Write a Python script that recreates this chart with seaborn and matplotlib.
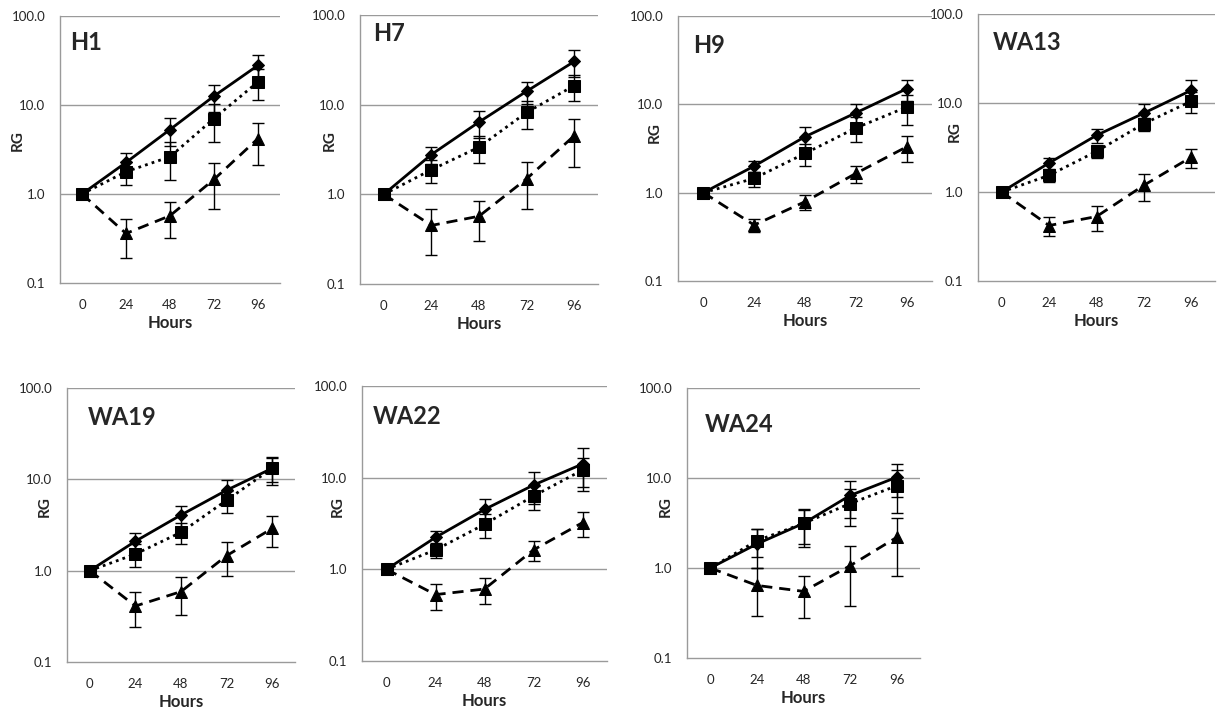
import numpy as np
import pandas as pd
import seaborn as sns
import matplotlib.pyplot as plt
import matplotlib.ticker as mticker

# categories on the x axis
hours = ["0", "24", "48", "72", "96"]
panels = ["H1", "H7", "H9", "WA13", "WA19", "WA22", "WA24"]

# mean RG per panel, three series (diamond/solid, square/dotted, triangle/dashed)
rg_a = {
    "H1":   [1.0, 2.26, 5.3, 12.6, 27.9],
    "H7":   [1.0, 2.78, 6.4, 14.1, 30.3],
    "H9":   [1.0, 2.0, 4.3, 8.0, 15.0],
    "WA13": [1.0, 2.12, 4.33, 7.7, 13.9],
    "WA19": [1.0, 2.1, 4.07, 7.6, 13.2],
    "WA22": [1.0, 2.23, 4.5, 8.3, 14.1],
    "WA24": [1.0, 1.85, 3.13, 6.4, 10.2],
}
err_a = {
    "H1":   [0, 0.65, 1.8, 4.3, 8.8],
    "H7":   [0, 0.6, 2.2, 4.0, 10.0],
    "H9":   [0, 0.27, 1.2, 2.2, 4.0],
    "WA13": [0, 0.3, 0.8, 2.0, 4.1],
    "WA19": [0, 0.47, 1.1, 2.2, 3.8],
    "WA22": [0, 0.39, 1.3, 3.1, 7.0],
    "WA24": [0, 0.86, 1.4, 2.8, 4.1],
}
rg_b = {
    "H1":   [1.0, 1.78, 2.62, 7.05, 18.2],
    "H7":   [1.0, 1.88, 3.36, 8.2, 16.3],
    "H9":   [1.0, 1.45, 2.78, 5.4, 9.3],
    "WA13": [1.0, 1.54, 2.86, 5.86, 10.5],
    "WA19": [1.0, 1.52, 2.63, 5.9, 13.2],
    "WA22": [1.0, 1.63, 3.1, 6.3, 12.1],
    "WA24": [1.0, 2.01, 3.13, 5.2, 8.2],
}
err_b = {
    "H1":   [0, 0.52, 1.2, 3.2, 6.9],
    "H7":   [0, 0.54, 1.1, 2.8, 5.3],
    "H9":   [0, 0.28, 0.78, 1.7, 3.5],
    "WA13": [0, 0.24, 0.43, 1.0, 2.8],
    "WA19": [0, 0.43, 0.67, 1.6, 4.5],
    "WA22": [0, 0.29, 0.9, 1.9, 4.1],
    "WA24": [0, 0.7, 1.3, 2.3, 4.1],
}
rg_c = {
    "H1":   [1.0, 0.36, 0.57, 1.46, 4.2],
    "H7":   [1.0, 0.45, 0.57, 1.49, 4.5],
    "H9":   [1.0, 0.43, 0.79, 1.65, 3.3],
    "WA13": [1.0, 0.42, 0.53, 1.19, 2.47],
    "WA19": [1.0, 0.41, 0.59, 1.46, 2.9],
    "WA22": [1.0, 0.53, 0.61, 1.63, 3.23],
    "WA24": [1.0, 0.64, 0.55, 1.06, 2.19],
}
err_c = {
    "H1":   [0, 0.17, 0.25, 0.78, 2.1],
    "H7":   [0, 0.24, 0.27, 0.8, 2.5],
    "H9":   [0, 0.07, 0.15, 0.37, 1.1],
    "WA13": [0, 0.1, 0.17, 0.39, 0.6],
    "WA19": [0, 0.17, 0.26, 0.58, 1.1],
    "WA22": [0, 0.17, 0.19, 0.4, 1.0],
    "WA24": [0, 0.35, 0.27, 0.68, 1.37],
}

# layout: axes box in pixels (left, top, right, bottom), panel label in axes coords,
# centre of the "RG" title in pixels
W, H = 1218, 710
boxes = {
    "H1":   (60, 16, 280, 283),
    "H7":   (360, 15, 598, 284),
    "H9":   (678, 16, 932, 281),
    "WA13": (978, 14, 1215, 281),
    "WA19": (67, 388, 295, 662),
    "WA22": (362, 386, 607, 661),
    "WA24": (687, 388, 920, 658),
}
label_pos = {
    "H1": (0.045, 0.90), "H7": (0.055, 0.93), "H9": (0.06, 0.89),
    "WA13": (0.063, 0.895), "WA19": (0.092, 0.894), "WA22": (0.045, 0.89),
    "WA24": (0.077, 0.863),
}
ylab_px = {
    "H1": (20, 141), "H7": (332, 141), "H9": (657, 133), "WA13": (957, 132),
    "WA19": (47, 507), "WA22": (340, 507), "WA24": (668, 507),
}

series = [
    ("A", rg_a, err_a, "D", "-", 6, 2),
    ("C", rg_c, err_c, "^", (0, (4, 2.5)), 8.5, 3),
    ("B", rg_b, err_b, "s", (0, (1, 1.5)), 8, 4),
]

rows = []
for p in panels:
    for name, vals, errs, *_ in series:
        for i, h in enumerate(hours):
            rows.append({"panel": p, "series": name, "pos": i, "hours": h,
                         "rg": vals[p][i], "err": errs[p][i]})
df = pd.DataFrame(rows)

sns.set_style("white")
plt.rcParams["font.family"] = ["Lato", "DejaVu Sans"]
grey = "#9a9a9a"

fig = plt.figure(figsize=(W / 100, H / 100), dpi=100)

for p in panels:
    l, t, r, b = boxes[p]
    ax = fig.add_axes([l / W, 1 - b / H, (r - l) / W, (b - t) / H])
    sub = df[df["panel"] == p]
    for name, _, _, mk, ls, ms, z in series:
        s = sub[sub["series"] == name]
        ax.errorbar(s["pos"], s["rg"], yerr=s["err"], fmt="none", ecolor="black",
                    elinewidth=1, capsize=4, capthick=1, zorder=z)
        sns.lineplot(data=s, x="pos", y="rg", ax=ax, color="black", marker=mk,
                     markersize=ms, markeredgecolor="black", linewidth=2,
                     linestyle=ls, errorbar=None, zorder=z)

    ax.set_yscale("log")
    ax.set_ylim(0.1, 100)
    ax.set_xlim(-0.5, 4.5)
    ax.yaxis.set_major_locator(mticker.FixedLocator([0.1, 1, 10, 100]))
    ax.yaxis.set_major_formatter(mticker.FixedFormatter(["0.1", "1.0", "10.0", "100.0"]))
    ax.yaxis.set_minor_locator(mticker.NullLocator())
    ax.set_xticks(range(len(hours)))
    ax.set_xticklabels(hours)
    ax.set_xticks(np.arange(-0.5, 5, 1), minor=True)
    ax.tick_params(axis="x", which="major", length=0, pad=11.5, labelsize=9.5)
    ax.tick_params(axis="x", which="minor", length=4, color=grey, width=1)
    ax.tick_params(axis="y", which="major", length=4.5, color=grey, width=1,
                   labelsize=9.5, pad=6)

    for v in [1, 10, 100]:
        ax.axhline(v, color=grey, linewidth=1, zorder=0)
    for side in ["top", "right"]:
        ax.spines[side].set_visible(False)
    for side in ["left", "bottom"]:
        ax.spines[side].set_color(grey)
        ax.spines[side].set_linewidth(1)

    ax.set_xlabel("Hours", fontsize=12, fontweight="bold", labelpad=3)
    ax.set_ylabel("RG", fontsize=11, fontweight="bold")
    yx, yy = ylab_px[p]
    # ylabel anchor is the right edge of the rotated text
    ax.yaxis.set_label_coords((yx + 5 - l) / (r - l), (b - yy) / (b - t))
    ax.text(label_pos[p][0], label_pos[p][1], p, transform=ax.transAxes,
            fontsize=17, fontweight="bold", va="center", ha="left")
    ax.set_facecolor("none")

fig.savefig("out.png", dpi=100, facecolor="white")
